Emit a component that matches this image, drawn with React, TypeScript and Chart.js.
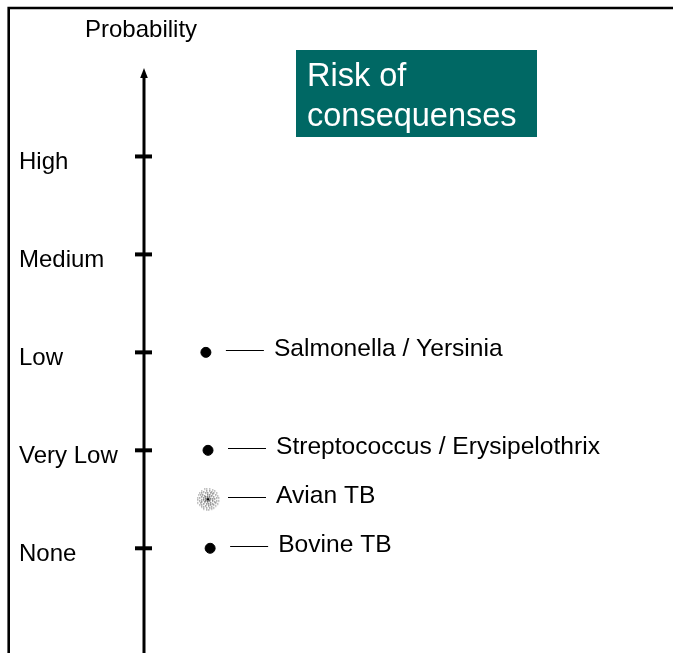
import React, { useEffect, useRef } from "react";
import { Chart, registerables } from "chart.js";

Chart.register(...registerables);

const levelLabels: string[] = ["None", "Very Low", "Low", "Medium", "High"];
const levelValues: number[] = [0, 1, 2, 3, 4];
const hazardNames: string[] = [
  "Salmonella / Yersinia",
  "Streptococcus / Erysipelothrix",
  "Avian TB",
  "Bovine TB",
];
const hazardProbability: number[] = [2, 1, 0.5, 0];
const hazardX: number[] = [11.7, 12.1, 12.1, 12.5];
const speckledFlags: boolean[] = [false, false, true, false];
const axisTitle = "Probability";
const boxLines: string[] = ["Risk of", "consequenses"];

const FONT = "'Liberation Sans', Arial, sans-serif";

function makeSpeckle(): HTMLCanvasElement {
  const c = document.createElement("canvas");
  c.width = 24;
  c.height = 24;
  const g = c.getContext("2d")!;
  const cx = 12;
  const cy = 12;
  const rings = [
    { r: 2.6, n: 8, col: "#555" },
    { r: 4.6, n: 12, col: "#666" },
    { r: 6.6, n: 16, col: "#777" },
    { r: 8.6, n: 20, col: "#888" },
    { r: 10.5, n: 24, col: "#a0a0a0" },
  ];
  rings.forEach((ring, i) => {
    g.fillStyle = ring.col;
    for (let k = 0; k < ring.n; k++) {
      const a = (k / ring.n) * Math.PI * 2 + i * 0.37;
      const x = cx + Math.cos(a) * ring.r;
      const y = cy + Math.sin(a) * ring.r;
      g.fillRect(Math.round(x - 0.7), Math.round(y - 0.7), 1.4, 1.4);
    }
  });
  g.fillStyle = "#000";
  g.beginPath();
  g.arc(cx, cy, 1.6, 0, Math.PI * 2);
  g.fill();
  return c;
}

const decorPlugin = {
  id: "decor",
  beforeDraw(chart: any) {
    const ctx = chart.ctx as CanvasRenderingContext2D;
    ctx.save();
    ctx.fillStyle = "#ffffff";
    ctx.fillRect(0, 0, chart.width, chart.height);
    // frame (top and left)
    ctx.strokeStyle = "#000";
    ctx.lineWidth = 2.6;
    ctx.beginPath();
    ctx.moveTo(8.7, chart.height);
    ctx.lineTo(8.7, 8);
    ctx.lineTo(chart.width, 8);
    ctx.stroke();
    // axis title
    ctx.fillStyle = "#000";
    ctx.font = `24px ${FONT}`;
    ctx.textAlign = "left";
    ctx.textBaseline = "alphabetic";
    ctx.fillText(axisTitle, 85, 37);
    // teal box
    ctx.fillStyle = "#006864";
    ctx.fillRect(296, 50, 241, 87);
    ctx.fillStyle = "#ffffff";
    ctx.font = `32.5px ${FONT}`;
    ctx.fillText(boxLines[0], 307, 86);
    ctx.fillText(boxLines[1], 307, 126);
    ctx.restore();
  },
  beforeDatasetsDraw(chart: any) {
    const ctx = chart.ctx as CanvasRenderingContext2D;
    const yScale = chart.scales.y;
    const area = chart.chartArea;
    const ax = area.left;
    ctx.save();
    ctx.strokeStyle = "#000";
    ctx.fillStyle = "#000";
    ctx.lineWidth = 3;
    ctx.beginPath();
    ctx.moveTo(ax, area.top + 8);
    ctx.lineTo(ax, chart.height);
    ctx.stroke();
    // arrow head
    ctx.beginPath();
    ctx.moveTo(ax, area.top);
    ctx.lineTo(ax - 3.8, area.top + 10);
    ctx.lineTo(ax + 3.8, area.top + 10);
    ctx.closePath();
    ctx.fill();
    // tick marks
    ctx.lineWidth = 4;
    yScale.ticks.forEach((t: any) => {
      const py = yScale.getPixelForValue(t.value);
      ctx.beginPath();
      ctx.moveTo(ax - 9, py);
      ctx.lineTo(ax + 8, py);
      ctx.stroke();
    });
    ctx.restore();
  },
  afterDatasetsDraw(chart: any) {
    const ctx = chart.ctx as CanvasRenderingContext2D;
    const meta = chart.getDatasetMeta(0);
    ctx.save();
    ctx.strokeStyle = "#000";
    ctx.fillStyle = "#000";
    ctx.lineWidth = 1;
    ctx.font = `24.6px ${FONT}`;
    ctx.textAlign = "left";
    ctx.textBaseline = "middle";
    meta.data.forEach((pt: any, i: number) => {
      const y = Math.round(pt.y) - 1.5;
      ctx.beginPath();
      ctx.moveTo(pt.x + 20, y);
      ctx.lineTo(pt.x + 58, y);
      ctx.stroke();
      ctx.fillText(hazardNames[i], pt.x + 68, pt.y - 3);
    });
    ctx.restore();
  },
};

export default function App() {
  const canvasRef = useRef<HTMLCanvasElement | null>(null);

  useEffect(() => {
    if (!canvasRef.current) return;
    const speckle = makeSpeckle();
    const chart = new Chart(canvasRef.current, {
      type: "scatter",
      data: {
        datasets: [
          {
            data: hazardX.map((x, i) => ({ x, y: hazardProbability[i] })),
            pointStyle: speckledFlags.map((s) => (s ? (speckle as any) : "circle")),
            pointRadius: 5,
            pointBorderWidth: 1,
            backgroundColor: "#000",
            borderColor: "#000",
          } as any,
        ],
      },
      options: {
        animation: false,
        responsive: false,
        events: [],
        layout: { autoPadding: false, padding: { top: 68, left: 19, right: 0, bottom: 0 } },
        plugins: {
          legend: { display: false },
          tooltip: { enabled: false },
          title: { display: false },
        },
        scales: {
          x: { type: "linear", display: false, min: 0, max: 100 },
          y: {
            type: "linear",
            min: -1.069,
            max: 4.903,
            grid: { display: false },
            border: { display: false },
            afterBuildTicks: (scale: any) => {
              scale.ticks = levelValues.map((v) => ({ value: v }));
            },
            afterFit: (scale: any) => {
              scale.width = 125;
              scale.paddingTop = 0;
              scale.paddingBottom = 0;
            },
            ticks: {
              crossAlign: "far",
              labelOffset: 6,
              color: "#000",
              font: { family: FONT, size: 24 },
              callback: (value: any) => {
                const idx = levelValues.indexOf(Number(value));
                return idx >= 0 ? levelLabels[idx] : "";
              },
            },
          },
        },
      } as any,
      plugins: [decorPlugin],
    });
    return () => chart.destroy();
  }, []);

  return (
    <div style={{ position: "absolute", left: 0, top: 0, width: 673, height: 653, background: "#fff" }}>
      <canvas ref={canvasRef} width={673} height={653} style={{ width: 673, height: 653, display: "block" }} />
    </div>
  );
}
